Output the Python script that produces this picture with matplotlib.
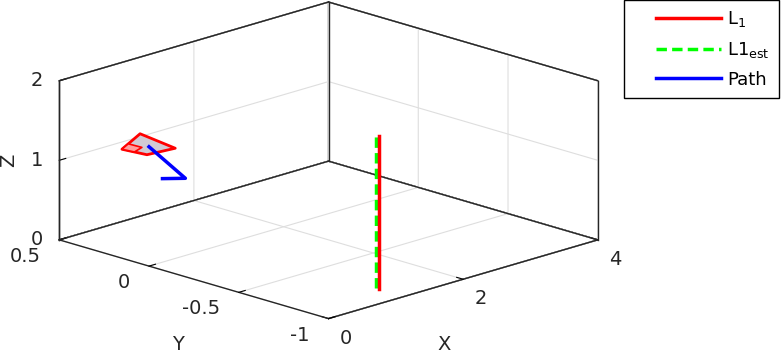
import matplotlib
matplotlib.use("Agg")
import matplotlib.pyplot as plt
import numpy as np
from matplotlib.legend_handler import HandlerLine2D
from mpl_toolkits.mplot3d.art3d import Poly3DCollection

# axis ticks
x_ticks = [0, 2, 4]
y_ticks = [-1, -0.5, 0, 0.5]
y_tick_labels = ['-1', '-0.5', '0', '0.5']
z_ticks = [0, 1, 2]

# L1 line and its estimate (vertical segments)
l1_x = [1.12, 1.12]
l1_y = [-0.86, -0.86]
l1_z = [0.0, 1.93]
l1est_x = [1.12, 1.12]
l1est_y = [-0.845, -0.845]
l1est_z = [0.0, 1.94]

# path of the vehicle
path_x = [0.0, 0.54, 0.2]
path_y = [0.0, 0.0, 0.0]
path_z = [1.5, 0.97, 1.05]

# vehicle frame corners (offsets around the path start)
frame_dx = [-0.255, 0.273, 0.166, -0.209]
frame_dy = [0.058, 0.155, -0.081, -0.064]
# shaded arm at the left corner of the frame
arm_dx = [-0.255, -0.07, -0.06, -0.232]
arm_dy = [0.058, 0.092, 0.02, -0.003]

FS = 14
TXT = (0.15, 0.15, 0.15)


class PaddedLine(HandlerLine2D):
    # leave an empty gap on the left of the legend line, like matlab
    def create_artists(self, legend, orig_handle, xdescent, ydescent, width, height, fontsize, trans):
        shift = width * 0.27
        return super().create_artists(legend, orig_handle, xdescent - shift, ydescent,
                                      width - shift, height, fontsize, trans)


fig = plt.figure(figsize=(7.81, 3.53), dpi=100)
ax = fig.add_subplot(projection='3d', proj_type='ortho', computed_zorder=False)
ax.set_position([-0.067, -0.096, 0.96, 1.25])
ax.view_init(elev=17, azim=-135)
ax.set_box_aspect((1, 1, 0.437), zoom=1.24)

# vehicle body
cx, cy, cz = path_x[0], path_y[0], path_z[0]
outer = [list(zip(cx + np.array(frame_dx), cy + np.array(frame_dy), [cz] * 4))]
arm = [list(zip(cx + np.array(arm_dx), cy + np.array(arm_dy), [cz] * 4))]
ax.add_collection3d(Poly3DCollection(outer, facecolor=(0.82, 0.79, 0.83), edgecolor='red', linewidth=2, zorder=1))
ax.add_collection3d(Poly3DCollection(arm, facecolor=(1.0, 0.62, 0.62), edgecolor='red', linewidth=1.2, zorder=1.5))

ax.plot(l1_x, l1_y, l1_z, color='red', lw=2.5, label='L$_1$', zorder=4, clip_on=False)
ax.plot(l1est_x, l1est_y, l1est_z, color=(0, 1, 0), lw=2.5, dashes=(3, 1.5),
        label='L1$_{\\mathrm{est}}$', zorder=3, clip_on=False)
ax.plot(path_x, path_y, path_z, color='blue', lw=2.5, label='Path', zorder=3, clip_on=False)

x0, x1 = 0, 4
y0, y1 = -1, 0.5
z0, z1 = 0, 2
ax.set_xlim(x0, x1)
ax.set_ylim(y0, y1)
ax.set_zlim(z0, z1)

# box edges on the back panes (the grid would otherwise cover them)
edges = [
    ([x0, x1], [y1, y1], [z0, z0]), ([x1, x1], [y0, y1], [z0, z0]),
    ([x0, x1], [y1, y1], [z1, z1]), ([x1, x1], [y0, y1], [z1, z1]),
    ([x0, x0], [y1, y1], [z0, z1]), ([x1, x1], [y1, y1], [z0, z1]),
    ([x1, x1], [y0, y0], [z0, z1]),
]
for ex, ey, ez in edges:
    ax.plot(ex, ey, ez, color=TXT, lw=1.0, zorder=0.5, clip_on=False)

ax.set_xticks(x_ticks)
ax.set_yticks(y_ticks)
ax.set_zticks(z_ticks)
ax.set_xticklabels([str(v) for v in x_ticks], fontsize=FS, color=TXT, ha='left', va='top')
ax.set_yticklabels(y_tick_labels, fontsize=FS, color=TXT, ha='right', va='center')
ax.set_zticklabels([str(v) for v in z_ticks], fontsize=FS, color=TXT, ha='right', va='center')
ax.xaxis.set_tick_params(pad=-1)
ax.yaxis.set_tick_params(pad=3.5)
ax.zaxis.set_tick_params(pad=-3)

for axis in (ax.xaxis, ax.yaxis, ax.zaxis):
    axis.set_pane_color((1, 1, 1, 1))
    axis.pane.set_edgecolor(TXT)
    axis.pane.set_linewidth(1.0)
    axis.line.set_color(TXT)
    axis.line.set_linewidth(1.0)
    axis._axinfo['grid']['color'] = (0.87, 0.87, 0.87)
    axis._axinfo['grid']['linewidth'] = 0.8
    axis._axinfo['tick']['inward_factor'] = 0.0
    axis._axinfo['tick']['outward_factor'] = 0.3
    axis._axinfo['tick']['color'] = TXT

# axis titles placed like matlab does
fig.text(444 / 781, 1 - 345 / 353, 'X', fontsize=FS, color=TXT, ha='center', va='center')
fig.text(178 / 781, 1 - 345 / 353, 'Y', fontsize=FS, color=TXT, ha='center', va='center')
fig.text(9 / 781, 1 - 160 / 353, 'Z', fontsize=FS, color=TXT, ha='center', va='center', rotation=90)

fig.legend(loc='upper right', bbox_to_anchor=(0.997, 1.0), fontsize=13, handlelength=4.9,
           handletextpad=0.33, labelspacing=0.6, borderpad=0.5, borderaxespad=0,
           fancybox=False, edgecolor='black', framealpha=1,
           handler_map={plt.Line2D: PaddedLine()})

fig.savefig('out.png', dpi=100)
